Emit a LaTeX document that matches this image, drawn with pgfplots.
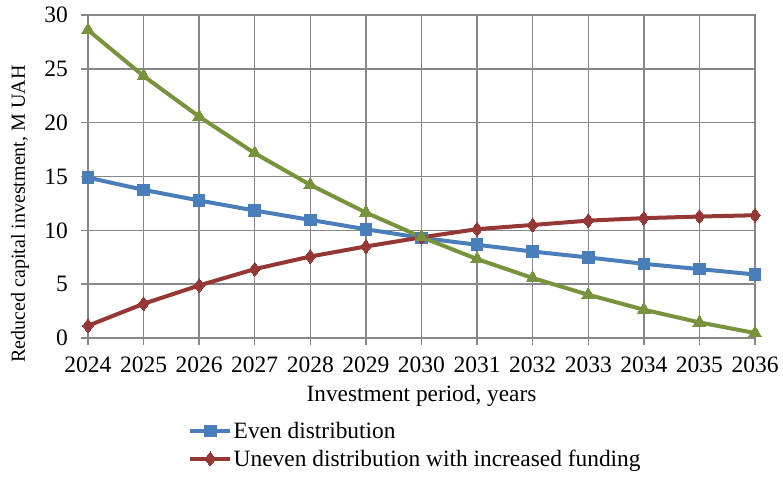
\documentclass[border=0pt]{standalone}
\usepackage{fontspec}
\setmainfont{Liberation Serif}
\usepackage{pgfplots}
\usepackage{pgfplotstable}
\pgfplotsset{compat=1.18}
\definecolor{cblue}{HTML}{4A7EBB}
\definecolor{cred}{HTML}{953735}
\definecolor{cgreen}{HTML}{77933C}
\definecolor{cgrid}{HTML}{878787}
\pgfplotstableread{
year even uneven third
2024 14.90 1.14 28.60
2025 13.76 3.18 24.33
2026 12.77 4.88 20.56
2027 11.84 6.40 17.16
2028 10.97 7.57 14.22
2029 10.10 8.50 11.65
2030 9.30 9.35 9.37
2031 8.66 10.11 7.33
2032 8.03 10.50 5.57
2033 7.48 10.90 4.02
2034 6.89 11.13 2.63
2035 6.40 11.28 1.45
2036 5.90 11.40 0.46
}\datatable
\begin{document}
\begin{tikzpicture}
\useasboundingbox (-88pt,-138pt) rectangle (695pt,338pt);
\begin{axis}[
  at={(0pt,0pt)}, anchor=south west,
  scale only axis, width=667pt, height=323pt,
  xmin=2024, xmax=2036, ymin=0, ymax=30,
  xtick={2024,2025,...,2036}, ytick={0,5,...,30},
  /pgf/number format/assume math mode=true,
  /pgf/number format/1000 sep={},
  axis line style={cgrid, line width=1.4pt},
  grid=major, grid style={cgrid, line width=1.4pt},
  tick align=outside, major tick length=7pt,
  tick style={cgrid, line width=1.4pt},
  xtick pos=bottom, ytick pos=left,
  ticklabel style={font=\fontsize{23.5}{28}\selectfont, text=black},
  xticklabel style={inner sep=0pt, anchor=base, yshift=-27pt},
  yticklabel style={inner sep=0pt, anchor=east, xshift=-13pt},
  xlabel={Investment period, years},
  xlabel style={font=\fontsize{23.3}{28}\selectfont, at={(axis description cs:0.5,-0.198)}, anchor=base, inner sep=0pt},
  ylabel={Reduced capital investment, M UAH},
  ylabel style={font=\fontsize{20}{24}\selectfont, at={(axis description cs:-0.102,0.384)}, anchor=center, rotate=0, inner sep=0pt},
  legend style={at={(axis description cs:0.15,-0.255)}, anchor=north west, draw=none, fill=none, inner sep=0pt,
    font=\fontsize{23.4}{28}\selectfont, row sep=7pt, cells={anchor=west},
    nodes={inner sep=1.5pt}},
  legend cell align=left,
  legend image code/.code={\draw[mark repeat=2, mark phase=2] plot coordinates {(0pt,0pt) (20pt,0pt) (40pt,0pt)};},
  every axis plot/.append style={line width=4pt},
  clip=false,
]
\addplot[cblue, mark=square*, mark size=5.8pt, mark options={line width=0pt}] table[x=year, y=even] {\datatable};
\addlegendentry{Even distribution}
\addplot[cred, mark=diamond*, mark size=7pt, mark options={line width=0pt}] table[x=year, y=uneven] {\datatable};
\addlegendentry{Uneven distribution with increased funding}
\addplot[cgreen, mark=triangle*, mark size=7.5pt, mark options={line width=0pt}, forget plot] table[x=year, y=third] {\datatable};
\end{axis}
\end{tikzpicture}
\end{document}
